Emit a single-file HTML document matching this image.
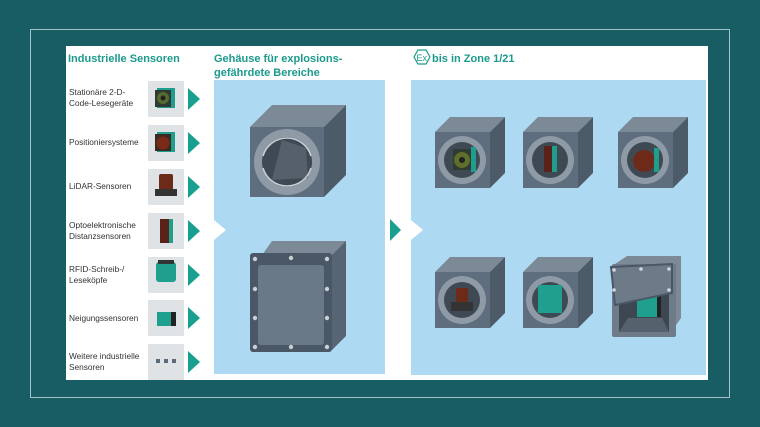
<!DOCTYPE html>
<html><head><meta charset="utf-8"><style>
html,body{margin:0;padding:0;background:#185c64;}
svg{display:block}
text{font-family:"Liberation Sans",sans-serif}
</style></head><body>
<svg width="760" height="427" viewBox="0 0 760 427" xmlns="http://www.w3.org/2000/svg">
<rect x="0" y="0" width="760" height="427" fill="#185c64"/>
<rect x="30.5" y="29.5" width="699" height="368" fill="none" stroke="#9fc3c6" stroke-width="1"/>
<rect x="66" y="46" width="642" height="334" fill="#ffffff"/>
<text x="68" y="62" font-size="11" font-weight="bold" fill="#1b9a8c">Industrielle Sensoren</text>
<text x="214" y="62" font-size="11" font-weight="bold" fill="#1b9a8c">Gehäuse für explosions-</text>
<text x="214" y="76" font-size="11" font-weight="bold" fill="#1b9a8c">gefährdete Bereiche</text>
<polygon points="418,50 426,50 430,57 426,64 418,64 414,57" fill="none" stroke="#1b9a8c" stroke-width="1.2"/>
<text x="416.5" y="61" font-size="9" fill="#1b9a8c" font-family="Liberation Serif">Ex</text>
<text x="432" y="62" font-size="11" font-weight="bold" fill="#1b9a8c">bis in Zone 1/21</text>
<rect x="214" y="80" width="171" height="294" fill="#aed9f2"/>
<polygon points="214,220 226,230 214,240" fill="#fff"/>
<rect x="411" y="80" width="295" height="295" fill="#aed9f2"/>
<polygon points="411,220 423,230 411,240" fill="#fff"/>
<polygon points="390,219 401,230 390,241" fill="#17a08f"/>
<g font-size="8.3" fill="#333">
<text x="69" y="95">Stationäre 2-D-</text><text x="69" y="106">Code-Lesegeräte</text>
<text x="69" y="145">Positioniersysteme</text>
<text x="69" y="189">LiDAR-Sensoren</text>
<text x="69" y="228">Optoelektronische</text><text x="69" y="239">Distanzsensoren</text>
<text x="69" y="272">RFID-Schreib-/</text><text x="69" y="283">Leseköpfe</text>
<text x="69" y="321">Neigungssensoren</text>
<text x="69" y="359">Weitere industrielle</text><text x="69" y="370">Sensoren</text>
</g>
<g fill="#dfe3e6">
<rect x="148" y="81" width="36" height="36"/><rect x="148" y="125" width="36" height="36"/>
<rect x="148" y="169" width="36" height="36"/><rect x="148" y="213" width="36" height="36"/>
<rect x="148" y="257" width="36" height="36"/><rect x="148" y="300" width="36" height="36"/>
<rect x="148" y="344" width="36" height="36"/>
</g>
<g fill="#17a08f">
<polygon points="188,88 200,99 188,110"/><polygon points="188,132 200,143 188,154"/>
<polygon points="188,176 200,187 188,198"/><polygon points="188,220 200,231 188,242"/>
<polygon points="188,264 200,275 188,286"/><polygon points="188,307 200,318 188,329"/>
<polygon points="188,351 200,362 188,373"/>
</g>
<rect x="157" y="88" width="18" height="20" fill="#1f9e8d"/><rect x="155" y="90" width="16" height="17" fill="#2f3a33"/><circle cx="163" cy="98" r="6" fill="#556b2f"/><circle cx="163" cy="98" r="2.5" fill="#222"/>
<rect x="157" y="132" width="18" height="20" fill="#1f9e8d"/><rect x="155" y="134" width="16" height="17" fill="#3a2a22"/><circle cx="163" cy="143" r="6.5" fill="#7a2a18"/>
<rect x="159" y="174" width="14" height="16" rx="2" fill="#6e2a18"/><rect x="155" y="189" width="22" height="7" fill="#333"/>
<rect x="160" y="219" width="9" height="24" fill="#5a2218"/><rect x="169" y="219" width="4" height="24" fill="#1f9e8d"/>
<rect x="156" y="262" width="20" height="20" rx="3" fill="#1fa08f"/><rect x="158" y="260" width="16" height="4" fill="#333"/>
<rect x="157" y="312" width="14" height="14" fill="#1fa08f"/><rect x="171" y="312" width="5" height="14" fill="#222"/>
<g fill="#5b6a7a"><rect x="156" y="359" width="4" height="4"/><rect x="164" y="359" width="4" height="4"/><rect x="172" y="359" width="4" height="4"/></g>
<polygon points="250,127 272,105 346,105 324,127" fill="#7c8997"/>
<polygon points="324,127 346,105 346,175 324,197" fill="#4d5a68"/>
<rect x="250" y="127" width="74" height="70" fill="#5e6e7e"/>
<circle cx="287" cy="162" r="33" fill="#8e9ba6"/>
<circle cx="287" cy="162" r="25" fill="#3f4954"/>
<polygon points="282,140 306,148 308,178 272,180" fill="#55606b"/>
<path d="M263,168 A25,25 0 0 0 311,168" fill="none" stroke="#c8d0d6" stroke-width="1.5"/>
<path d="M263,156 A25,25 0 0 1 311,156" fill="none" stroke="#c8d0d6" stroke-width="1.5"/>
<polygon points="262,255 272,241 346,241 336,255" fill="#7c8997"/>
<polygon points="332,255 346,241 346,336 332,350" fill="#566474"/>
<rect x="250" y="253" width="82" height="99" rx="3" fill="#495766"/>
<rect x="258" y="265" width="66" height="80" rx="3" fill="#6a7987"/>
<g fill="#c9d0d6">
<circle cx="255" cy="259" r="2.2"/><circle cx="291" cy="258" r="2.2"/><circle cx="327" cy="259" r="2.2"/>
<circle cx="255" cy="289" r="2.2"/><circle cx="327" cy="289" r="2.2"/>
<circle cx="255" cy="318" r="2.2"/><circle cx="327" cy="318" r="2.2"/>
<circle cx="255" cy="347" r="2.2"/><circle cx="291" cy="347" r="2.2"/><circle cx="327" cy="347" r="2.2"/>
</g>
<g>
<polygon points="435,132 450,117 505,117 490,132" fill="#7c8997"/>
<polygon points="490,132 505,117 505,173 490,188" fill="#4d5a68"/>
<rect x="435" y="132" width="55" height="56" fill="#5e6e7e"/>
<circle cx="462" cy="160" r="24" fill="#8e9ba6"/><circle cx="462" cy="160" r="18" fill="#3f4954"/>
</g>
<rect x="453" y="149" width="18" height="21" fill="#2f3a33"/><circle cx="462" cy="160" r="8" fill="#5f6e2a"/><circle cx="462" cy="160" r="3" fill="#222"/>
<rect x="471" y="147" width="5" height="25" fill="#1f9e8d"/>
<g>
<polygon points="523,132 538,117 593,117 578,132" fill="#7c8997"/>
<polygon points="578,132 593,117 593,173 578,188" fill="#4d5a68"/>
<rect x="523" y="132" width="55" height="56" fill="#5e6e7e"/>
<circle cx="550" cy="160" r="24" fill="#8e9ba6"/><circle cx="550" cy="160" r="18" fill="#3f4954"/>
</g>
<rect x="544" y="146" width="8" height="26" fill="#5a2218"/><rect x="552" y="146" width="5" height="26" fill="#1f9e8d"/>
<g>
<polygon points="618,132 633,117 688,117 673,132" fill="#7c8997"/>
<polygon points="673,132 688,117 688,173 673,188" fill="#4d5a68"/>
<rect x="618" y="132" width="55" height="56" fill="#5e6e7e"/>
<circle cx="645" cy="160" r="24" fill="#8e9ba6"/><circle cx="645" cy="160" r="18" fill="#3f4954"/>
</g>
<circle cx="644" cy="161" r="11" fill="#6e2a18"/><rect x="654" y="148" width="5" height="24" fill="#1f9e8d"/>
<g>
<polygon points="435,272 450,257 505,257 490,272" fill="#7c8997"/>
<polygon points="490,272 505,257 505,313 490,328" fill="#4d5a68"/>
<rect x="435" y="272" width="55" height="56" fill="#5e6e7e"/>
<circle cx="462" cy="300" r="24" fill="#8e9ba6"/><circle cx="462" cy="300" r="18" fill="#3f4954"/>
</g>
<rect x="456" y="288" width="12" height="14" fill="#6e2a18"/><rect x="451" y="302" width="22" height="9" fill="#333"/>
<g>
<polygon points="523,272 538,257 593,257 578,272" fill="#7c8997"/>
<polygon points="578,272 593,257 593,313 578,328" fill="#4d5a68"/>
<rect x="523" y="272" width="55" height="56" fill="#5e6e7e"/>
<circle cx="550" cy="300" r="24" fill="#8e9ba6"/><circle cx="550" cy="300" r="18" fill="#3f4954"/>
</g>
<rect x="538" y="285" width="24" height="28" fill="#1fa08f"/>
<polygon points="615,264 627,256 681,256 681,318 672,331" fill="#7c8997"/>
<rect x="612" y="264" width="64" height="73" rx="2" fill="#6e7c8a"/>
<rect x="619" y="292" width="50" height="40" fill="#3c4752"/>
<polygon points="619,332 669,332 662,318 628,318" fill="#55616d"/>
<rect x="637" y="295" width="20" height="22" fill="#1fa08f"/><rect x="657" y="295" width="4" height="22" fill="#222"/>
<polygon points="611,267 672,264 672,293 615,305" fill="#6d7b89" stroke="#495766" stroke-width="2"/>
<g fill="#d0d6db"><circle cx="614" cy="270" r="1.8"/><circle cx="641" cy="269" r="1.8"/><circle cx="669" cy="269" r="1.8"/><circle cx="614" cy="290" r="1.8"/><circle cx="669" cy="290" r="1.8"/></g>
</svg>
</body></html>
